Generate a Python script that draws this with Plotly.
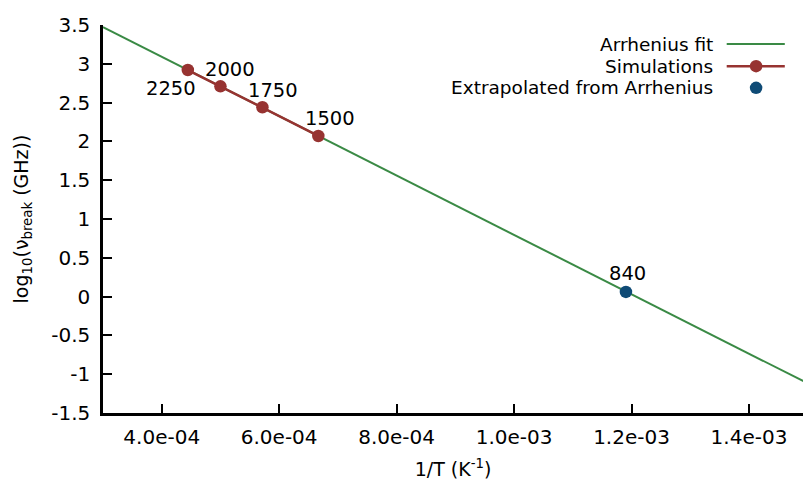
import plotly.graph_objects as go

# Arrhenius fit (straight line in log10 vs 1/T), end points of the drawn segment
fit_inv_t = [3.0e-4, 1.5e-3]
fit_log_nu = [3.474, -1.118]

# Simulated break frequencies
sim_temps = [2250, 2000, 1750, 1500]
sim_inv_t = [1 / t for t in sim_temps]
sim_log_nu = [2.92, 2.71, 2.44, 2.07]

# Extrapolated point
ext_temps = [840]
ext_inv_t = [1 / t for t in ext_temps]
ext_log_nu = [0.06]

x_ticks = [4.0e-4, 6.0e-4, 8.0e-4, 1.0e-3, 1.2e-3, 1.4e-3]
x_tick_text = ["4.0e-04", "6.0e-04", "8.0e-04", "1.0e-03", "1.2e-03", "1.4e-03"]
y_ticks = [-1.5, -1, -0.5, 0, 0.5, 1, 1.5, 2, 2.5, 3, 3.5]
y_tick_text = ["-1.5", "-1", "-0.5", "0", "0.5", "1", "1.5", "2", "2.5", "3", "3.5"]

legend_names = ["Arrhenius fit", "Simulations", "Extrapolated from Arrhenius"]

GREEN = "#3a8a45"
RED = "#973331"
BLUE = "#0f4b76"
FONT = "DejaVu Sans"
TICK_FS = 20
LABEL_FS = 19.5
KEY_FS = 18.5
TITLE_FS = 19

fig = go.Figure()

fig.add_trace(go.Scatter(x=fit_inv_t, y=fit_log_nu, mode="lines",
                         line=dict(color=GREEN, width=2), showlegend=False))
fig.add_trace(go.Scatter(x=sim_inv_t, y=sim_log_nu, mode="lines+markers",
                         line=dict(color=RED, width=2.5),
                         marker=dict(color=RED, size=12.5), showlegend=False))
fig.add_trace(go.Scatter(x=ext_inv_t, y=ext_log_nu, mode="markers",
                         marker=dict(color=BLUE, size=12.5), showlegend=False))

# Point labels (temperature in K)
label_offsets = {2250: ("right", 10, -18), 2000: ("left", -17, 17),
                 1750: ("left", -16, 17), 1500: ("left", -15, 17)}
for t, x, y in zip(sim_temps, sim_inv_t, sim_log_nu):
    anchor, dx, dy = label_offsets[t]
    fig.add_annotation(x=x, y=y, text=str(t), showarrow=False,
                       xanchor=anchor, yanchor="middle", xshift=dx, yshift=dy,
                       font=dict(family=FONT, size=LABEL_FS, color="black"))
for t, x, y in zip(ext_temps, ext_inv_t, ext_log_nu):
    fig.add_annotation(x=x, y=y, text=str(t), showarrow=False,
                       xanchor="left", yanchor="middle", xshift=-19, yshift=18,
                       font=dict(family=FONT, size=LABEL_FS, color="black"))

# Key block: text right-aligned, sample to its right
key_rows = [0.951, 0.894, 0.838]
key_x0, key_x1, key_mid, key_text_x = 0.891, 0.974, 0.933, 0.874
for name, ky in zip(legend_names, key_rows):
    fig.add_annotation(xref="paper", yref="paper", x=key_text_x, y=ky,
                       text=name, showarrow=False, xanchor="right", yanchor="middle",
                       font=dict(family=FONT, size=KEY_FS, color="black"))
fig.add_trace(go.Scatter(x=[key_x0, key_x1], y=[key_rows[0]] * 2, mode="lines",
                         line=dict(color=GREEN, width=2), xaxis="x2", yaxis="y2",
                         showlegend=False, hoverinfo="skip"))
fig.add_trace(go.Scatter(x=[key_x0, key_x1], y=[key_rows[1]] * 2, mode="lines",
                         line=dict(color=RED, width=2.5), xaxis="x2", yaxis="y2",
                         showlegend=False, hoverinfo="skip"))
fig.add_trace(go.Scatter(x=[key_mid], y=[key_rows[1]], mode="markers",
                         marker=dict(color=RED, size=12.5), xaxis="x2", yaxis="y2",
                         showlegend=False, hoverinfo="skip"))
fig.add_trace(go.Scatter(x=[key_mid], y=[key_rows[2]], mode="markers",
                         marker=dict(color=BLUE, size=12.5), xaxis="x2", yaxis="y2",
                         showlegend=False, hoverinfo="skip"))

fig.update_layout(
    width=803, height=484,
    margin=dict(l=103, r=0, t=25, b=71),
    paper_bgcolor="white", plot_bgcolor="white",
    font=dict(family=FONT, size=TICK_FS, color="black"),
    xaxis=dict(range=[3.0e-4, 1.492e-3], tickvals=x_ticks, ticktext=x_tick_text,
               ticks="inside", ticklen=9, tickwidth=1.5, tickcolor="black",
               ticklabelstandoff=4, tickfont=dict(family=FONT, size=TICK_FS),
               showline=True, linecolor="black", linewidth=2.5, showgrid=False,
               zeroline=False, mirror=False,
               title=dict(text="1/T (K<sup>-1</sup>)", standoff=15,
                          font=dict(family=FONT, size=TITLE_FS))),
    yaxis=dict(range=[-1.5, 3.5], tickvals=y_ticks, ticktext=y_tick_text,
               ticks="inside", ticklen=9, tickwidth=1.5, tickcolor="black",
               ticklabelstandoff=6, tickfont=dict(family=FONT, size=TICK_FS),
               showline=True, linecolor="black", linewidth=2.5, showgrid=False,
               zeroline=False, mirror=False,
               title=dict(text="log<sub>10</sub>(ν<sub>break</sub> (GHz))", standoff=18,
                          font=dict(family=FONT, size=TITLE_FS))),
    xaxis2=dict(range=[0, 1], overlaying="x", visible=False, fixedrange=True),
    yaxis2=dict(range=[0, 1], overlaying="y", visible=False, fixedrange=True),
    showlegend=False,
)

fig.write_html("out.html")
